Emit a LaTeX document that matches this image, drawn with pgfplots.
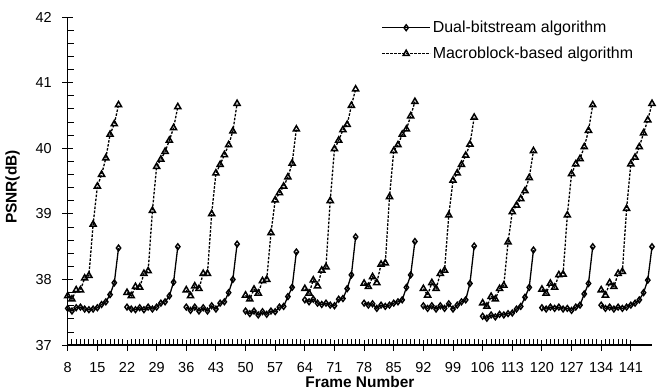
\documentclass[border=0pt]{standalone}
\usepackage{fontspec}
\setmainfont{Liberation Sans}
\usepackage{pgfplots}
\usepackage{pgfplotstable}
\pgfplotsset{compat=1.18}

\pgfplotstableread{
x y
8 37.56
9 37.52
10 37.57
11 37.58
12 37.55
13 37.54
14 37.55
15 37.57
16 37.62
17 37.66
18 37.77
19 37.95
20 38.48
21 nan
22 37.58
23 37.55
24 37.54
25 37.57
26 37.54
27 37.58
28 37.55
29 37.58
30 37.64
31 37.66
32 37.75
33 37.96
34 38.50
35 nan
36 37.58
37 37.53
38 37.58
39 37.52
40 37.57
41 37.52
42 37.60
43 37.55
44 37.64
45 37.66
46 37.80
47 38.00
48 38.54
49 nan
50 37.52
51 37.48
52 37.52
53 37.46
54 37.51
55 37.47
56 37.52
57 37.51
58 37.58
59 37.59
60 37.74
61 37.88
62 38.42
63 nan
64 37.69
65 37.66
66 37.70
67 37.64
68 37.62
69 37.64
70 37.61
71 37.60
72 37.70
73 37.71
74 37.86
75 38.07
76 38.65
77 nan
78 37.64
79 37.61
80 37.63
81 37.56
82 37.61
83 37.59
84 37.61
85 37.64
86 37.66
87 37.69
88 37.88
89 38.07
90 38.58
91 nan
92 37.60
93 37.56
94 37.60
95 37.55
96 37.60
97 37.56
98 37.63
99 37.55
100 37.61
101 37.66
102 37.69
103 37.94
104 38.51
105 nan
106 37.44
107 37.41
108 37.46
109 37.43
110 37.47
111 37.46
112 37.48
113 37.49
114 37.55
115 37.59
116 37.73
117 37.88
118 38.45
119 nan
120 37.57
121 37.55
122 37.58
123 37.56
124 37.58
125 37.55
126 37.56
127 37.53
128 37.58
129 37.61
130 37.78
131 37.94
132 38.50
133 nan
134 37.61
135 37.56
136 37.58
137 37.55
138 37.58
139 37.56
140 37.58
141 37.61
142 37.64
143 37.69
144 37.80
145 37.99
146 38.50
}\dual

\pgfplotstableread{
x y
8 37.75
9 37.70
10 37.84
11 37.84
12 38.02
13 38.06
14 38.84
15 39.42
16 39.60
17 39.85
18 40.21
19 40.37
20 40.66
21 nan
22 37.80
23 37.75
24 37.89
25 37.88
26 38.09
27 38.13
28 39.05
29 39.72
30 39.83
31 39.95
32 40.12
33 40.31
34 40.63
35 nan
36 37.84
37 37.75
38 37.90
39 37.86
40 38.09
41 38.09
42 39.00
43 39.62
44 39.75
45 39.90
46 40.05
47 40.26
48 40.68
49 nan
50 37.76
51 37.70
52 37.85
53 37.79
54 37.98
55 38.00
56 38.71
57 39.21
58 39.32
59 39.42
60 39.56
61 39.77
62 40.29
63 nan
64 37.86
65 37.79
66 37.99
67 37.90
68 38.14
69 38.19
70 39.20
71 39.99
72 40.12
73 40.28
74 40.36
75 40.65
76 40.90
77 nan
78 37.94
79 37.89
80 38.04
81 37.95
82 38.23
83 38.25
84 39.26
85 39.96
86 40.05
87 40.21
88 40.29
89 40.49
90 40.71
91 nan
92 37.86
93 37.76
94 37.95
95 37.86
96 38.09
97 38.14
98 38.98
99 39.51
100 39.62
101 39.75
102 39.89
103 40.06
104 40.47
105 nan
106 37.64
107 37.59
108 37.74
109 37.70
110 37.86
111 37.91
112 38.57
113 39.03
114 39.13
115 39.23
116 39.35
117 39.55
118 39.96
119 nan
120 37.85
121 37.79
122 37.94
123 37.88
124 38.07
125 38.08
126 38.98
127 39.61
128 39.76
129 39.84
130 40.02
131 40.27
132 40.66
133 nan
134 37.84
135 37.76
136 37.95
137 37.89
138 38.09
139 38.12
140 39.08
141 39.76
142 39.86
143 40.02
144 40.23
145 40.43
146 40.68
}\macro

\begin{document}
\begin{tikzpicture}
\begin{axis}[
  scale only axis,
  width=584bp, height=328bp,
  xmin=8, xmax=146, ymin=37, ymax=42,
  axis x line=bottom, axis y line=left,
  axis line style={-, line width=1.3pt, black},
  xtick={8,15,...,141}, ytick={37,38,...,42},
  minor x tick num=6, minor y tick num=4,
  tick align=center,
  major tick length=11bp, minor tick length=6bp,
  tick style={line width=1pt, black},
  minor x tick style={yshift=3bp},
  minor y tick style={xshift=3bp},
  /pgf/number format/assume math mode=true,
  ticklabel style={font=\fontsize{14.5}{16}\selectfont},
  xticklabel style={yshift=-8bp},
  yticklabel shift=7bp,
  xlabel={Frame Number}, ylabel={PSNR(dB)},
  every axis x label/.style={at={(rel axis cs:0.5,0)}, anchor=center, yshift=-36.5bp,
    font=\fontsize{15.5}{17}\selectfont\bfseries},
  every axis y label/.style={at={(rel axis cs:0,0.5)}, xshift=-55bp, yshift=-6bp,
    rotate=90, anchor=center, font=\fontsize{15.5}{17}\selectfont\bfseries},
  legend cell align=left,
  legend style={at={(0.535,0.997)}, anchor=north west, draw=none, fill=none,
    font=\fontsize{16}{18}\selectfont, row sep=9bp, inner sep=1bp},
  legend image code/.code={\draw[mark repeat=2,mark phase=2] plot coordinates {(0bp,0bp) (24bp,0bp) (48bp,0bp)};},
  unbounded coords=jump,
  clip=false,
]
\addplot[black, line width=1.3bp, mark=diamond, mark size=2.9bp,
  mark options={solid, fill=white, line width=1.4bp}] table[x=x,y=y] {\dual};
\addlegendentry{Dual-bitstream algorithm}
\addplot[black, line width=1.3bp, dash pattern=on 2.5bp off 1.5bp, mark=triangle, mark size=3.5bp,
  mark options={solid, fill=white, line width=1.5bp}] table[x=x,y=y] {\macro};
\addlegendentry{Macroblock-based algorithm}
\coordinate (ll) at (rel axis cs:0,0);
\coordinate (ur) at (rel axis cs:1,1);
\end{axis}
\pgfresetboundingbox
\useasboundingbox ([shift={(-67.7bp,-46bp)}]ll) rectangle ([shift={(7bp,17bp)}]ur);
\end{tikzpicture}
\end{document}
